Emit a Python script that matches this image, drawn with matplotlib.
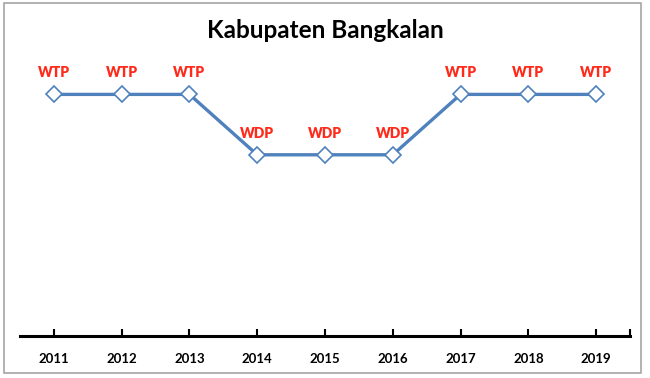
import matplotlib
matplotlib.use('Agg')
import matplotlib.pyplot as plt
from matplotlib.patches import Rectangle

years = ['2011', '2012', '2013', '2014', '2015', '2016', '2017', '2018', '2019']
status = ['WTP', 'WTP', 'WTP', 'WDP', 'WDP', 'WDP', 'WTP', 'WTP', 'WTP']
level = {'WTP': 4, 'WDP': 3}
values = [level[s] for s in status]

blue = '#4F81BD'
red = '#FF2A1A'

fig = plt.figure(figsize=(6.5, 3.78), dpi=100)
# outer chart border
fig.patches.append(Rectangle((4/650, 1 - 373/378), 637/650, 370/378, transform=fig.transFigure,
                             fill=False, edgecolor='#A6A6A6', linewidth=1.2))

ax = fig.add_axes([20/650, 42/378, 610/650, 302/378])
x = list(range(len(years)))
ax.plot(x, values, '-', color=blue, linewidth=2.4, marker='D', markersize=8,
        markerfacecolor='white', markeredgecolor=blue, markeredgewidth=1.2, zorder=3)
for xi, v, s in zip(x, values, status):
    ax.annotate(s, (xi, v), xytext=(0, 11), textcoords='offset points', ha='center', va='bottom',
                color=red, fontsize=10, fontweight='heavy', family='Lato')

ax.set_xlim(-0.5, 8.5)
ax.set_ylim(0, 5)
for sp in ['top', 'right', 'left']:
    ax.spines[sp].set_visible(False)
ax.spines['bottom'].set_linewidth(2.2)
ax.spines['bottom'].set_color('black')
ax.set_yticks([])
ax.set_xticks(x + [8.5])
ax.set_xticklabels(years + [''], fontsize=9.5, fontweight='bold', family='Lato')
ax.tick_params(axis='x', direction='in', length=5, width=1.5, pad=12)

fig.text(0.5, 1 - 31/378, 'Kabupaten Bangkalan', ha='center', va='center',
         fontsize=17.5, fontweight='bold', family='Lato')

fig.savefig('out.png', dpi=100)
